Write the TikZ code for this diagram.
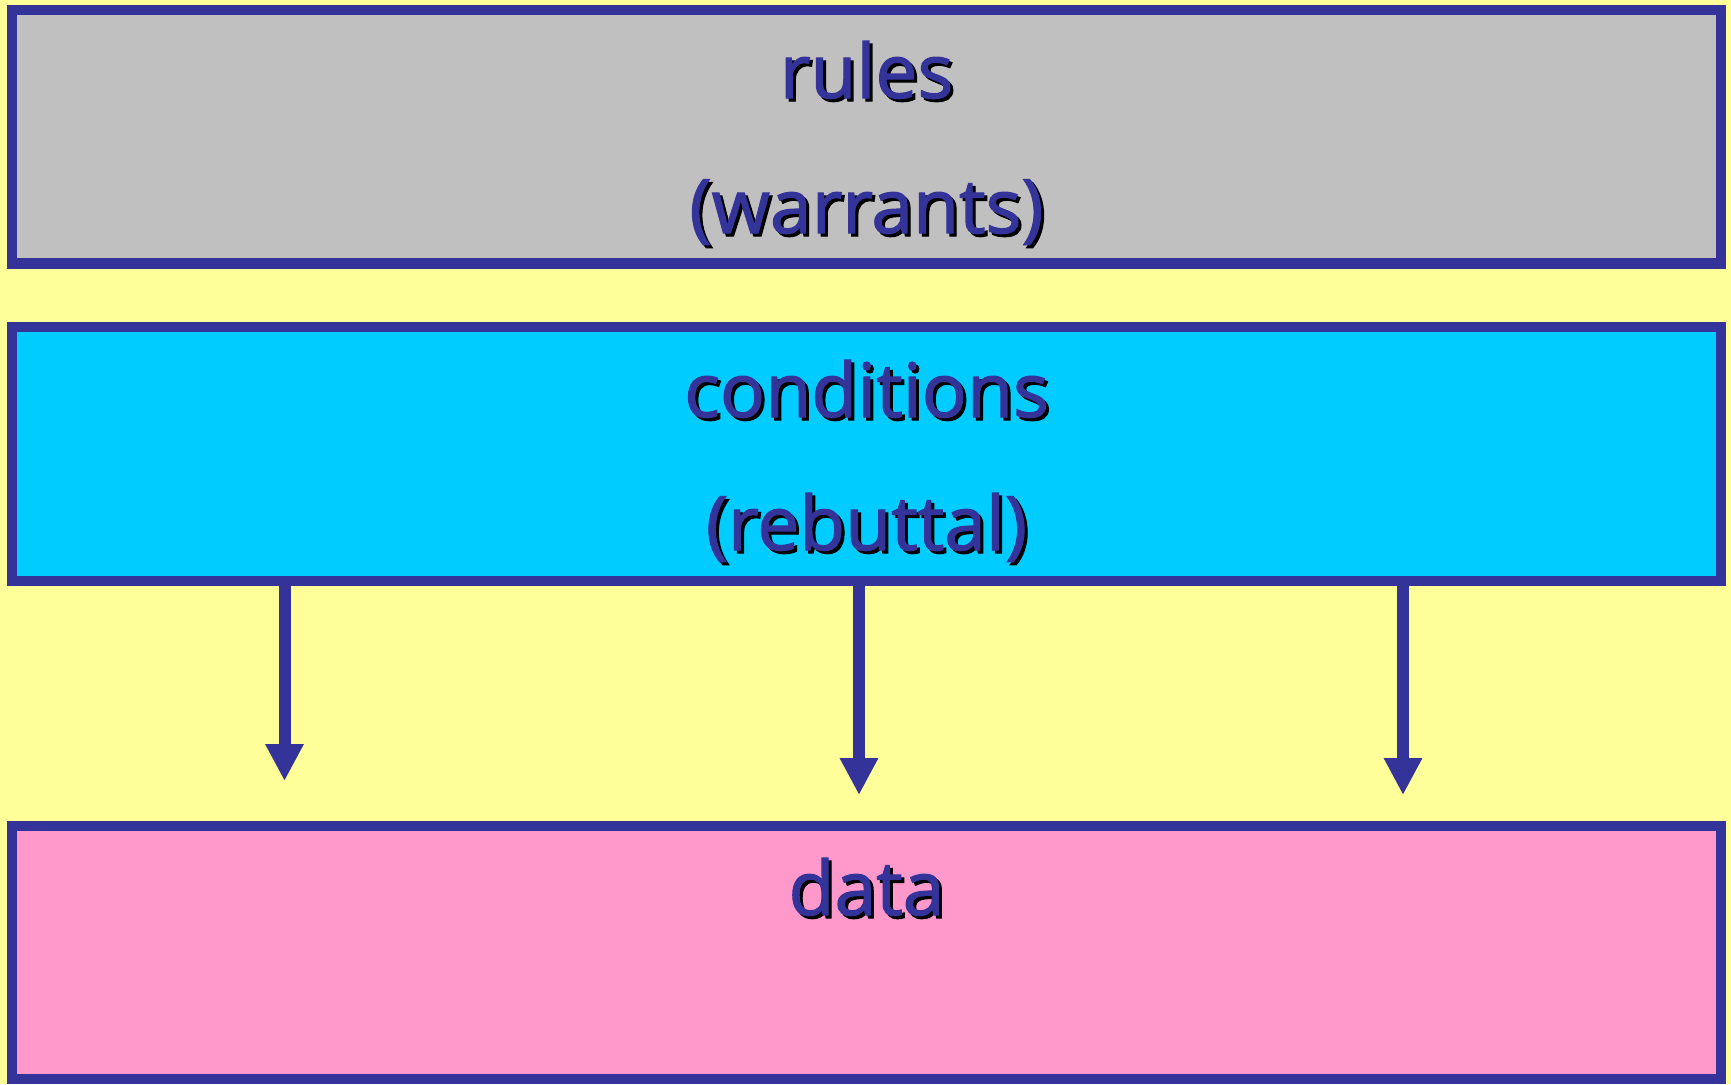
\documentclass[tikz,border=0pt]{standalone}
\usepackage{fontspec}
\setmainfont{Open Sans}
\newfontfamily\lblfont[FakeBold=1.6]{Open Sans}
\usetikzlibrary{arrows.meta}
\definecolor{bgyellow}{HTML}{FFFF99}
\definecolor{navy}{HTML}{333399}
\definecolor{boxgrey}{HTML}{C0C0C0}
\definecolor{boxcyan}{HTML}{00CCFF}
\definecolor{boxpink}{HTML}{FF99CC}
\tikzset{
  panel/.style={draw=navy, line width=10.5pt, rectangle, inner sep=0pt,
    minimum width=1709pt},
  lbl/.style={text=navy, anchor=base, inner sep=0pt, font=\lblfont\fontsize{75}{90}\selectfont},
  shad/.style={text=black, anchor=base, inner sep=0pt, font=\lblfont\fontsize{75}{90}\selectfont},
  arr/.style={draw=navy, line width=12pt, -{Triangle[width=36pt,length=37pt]}}
}
\begin{document}
\begin{tikzpicture}[x=1pt,y=-1pt]
\fill[bgyellow] (0,0) rectangle (1731,1084);
\useasboundingbox (0,0) rectangle (1731,1084);
\node[panel, fill=boxgrey, minimum height=253.5pt] (rules) at (866.5,136.75) {};
\node[panel, fill=boxcyan, minimum height=254pt] (cond) at (866.5,454) {};
\node[panel, fill=boxpink, minimum height=253pt] (data) at (866.5,952.5) {};
% texts
\node[shad] (s1) at (869.5,101) {rules};
\node[lbl] (t1) at (866.5,98) {rules};
\node[shad] (s2) at (869.5,236) {(warrants)};
\node[lbl] (t2) at (866.5,233) {(warrants)};
\node[shad] (s3) at (869.5,420) {conditions};
\node[lbl] (t3) at (866.5,417) {conditions};
\node[shad] (s4) at (869.5,553) {(rebuttal)};
\node[lbl] (t4) at (866.5,550) {(rebuttal)};
\node[shad] (s5) at (869.5,918) {data};
\node[lbl] (t5) at (866.5,915) {data};
% arrows
\coordinate (a1) at (284.5,781);
\coordinate (a2) at (859,795);
\coordinate (a3) at (1403,795);
\draw[arr] (cond.south -| a1) -- (a1);
\draw[arr] (cond.south -| a2) -- (a2);
\draw[arr] (cond.south -| a3) -- (a3);
\end{tikzpicture}
\end{document}
